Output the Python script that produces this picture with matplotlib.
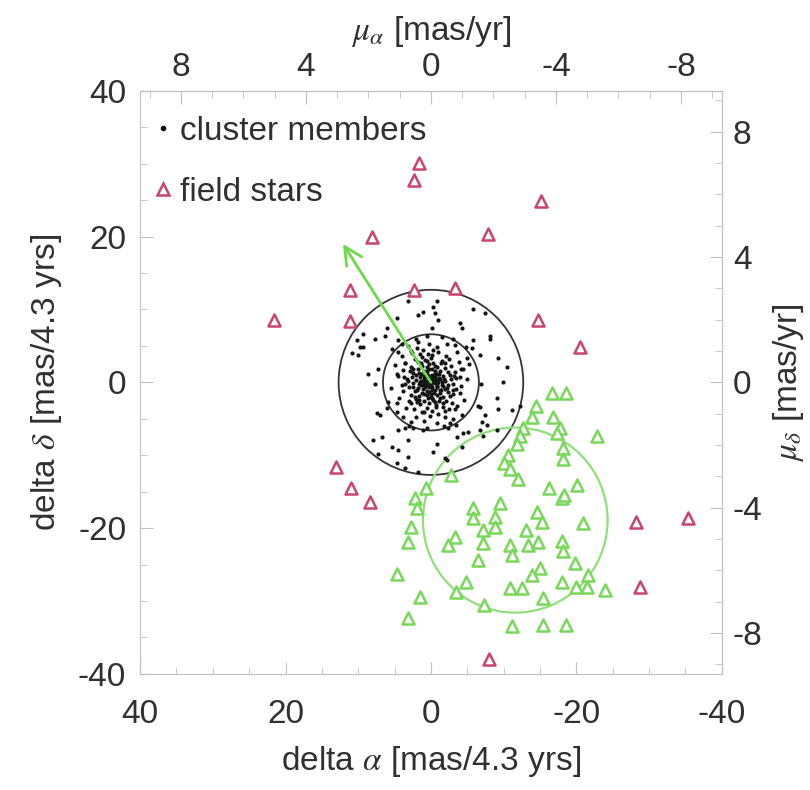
import matplotlib
matplotlib.use("Agg")
import matplotlib.pyplot as plt
from matplotlib.patches import Circle
from matplotlib.lines import Line2D
from matplotlib.ticker import MultipleLocator

plt.rcParams['font.family'] = ['Liberation Sans', 'DejaVu Sans']
plt.rcParams['mathtext.fontset'] = 'stix'
plt.rcParams['axes.unicode_minus'] = False

# ---------------- data ----------------
# cluster members: halo
cluster_halo_x = [3.2, 1.1, 1.8, 4.7, 6.1, 9.4, 6.3, 7.7, 10.2, 9.8, 10.9, 4.0, 1.8, 1.1, 1.9, 4.5, 2.6, 3.6,
                  7.3, 4.7, -0.8, -0.3, -0.6, -5.8, -7.4, -4.0, -4.3, -0.1, -8.1, -8.1, -5.8, -5.6, -3.3, -0.8,
                  -6.7, -9.2, -10.5, -5.0, -4.4, -4.0, -9.9, 5.9, 4.7, 7.4, 7.0, 3.9, 4.5, 3.6, 2.5, 1.1, 6.7,
                  8.0, 3.2, -0.3, 4.7, 3.6, 1.8, -9.1, -9.2, -6.5, -3.3, -11.1, -12.2, -7.4, -7.0, -7.7, -5.1,
                  -4.4, -6.7, -7.2, -2.3, -2.6, -3.6, -9.1, -1.9, -2.2, -4.3, -0.8, 10.0, 9.4, 7.7, 6.1, 4.5,
                  -1.0, -6.8, -6.9, 7.3, 5.4, 3.2, 8.6]
cluster_halo_y = [11.2, 9.6, 9.2, 8.8, 7.5, 6.7, 6.4, 6.0, 5.8, 4.8, 4.0, 5.3, 5.5, 4.4, 4.7, 4.1, 4.0, 2.7,
                  1.9, 1.2, 11.2, 10.3, 9.5, 10.1, 9.5, 8.1, 7.5, 7.5, 6.4, 6.0, 5.8, 4.7, 5.1, 4.8, 3.7, 3.4,
                  2.1, 3.4, 1.9, 0.7, 0.0, -2.7, -2.9, -4.2, -4.5, -4.8, -6.6, -6.3, -6.2, -6.6, -7.5, -7.9,
                  -7.9, -9.6, -11.0, -11.8, -12.3, -2.2, -3.6, -3.2, -3.6, -3.8, -3.2, -4.5, -5.5, -5.9, -6.8,
                  -7.0, -6.6, -7.3, -6.3, -5.6, -7.5, -6.6, -10.4, -10.7, -8.9, -8.4, 3.8, 4.8, -0.2, -3.5,
                  -9.3, 8.6, -3.4, -0.2, -9.8, -8.9, -10.3, 1.2]
# cluster members: dense core (estimated)
cluster_core_x = [-1.5, 2.0, 4.5, -3.0, 0.5, -2.2, 3.2, 0.2, -4.8, 5.3, -1.0, 1.5, -3.6, 4.0, -0.2, 2.8,
                  -2.5, 0.8, -1.5, 2.2, 3.5, -3.8, 0.0, -5.2, 5.0, 1.3, -0.6, 0.5, -1.9, 1.8, 2.8, -2.8, -0.2,
                  1.0, -1.2, 3.8, -4.1, 0.3, -3.3, 2.4, -0.8, 0.6, -1.7, 1.5, 2.6, -2.6, 0.1, -0.4, 1.0, -1.3,
                  2.0, -2.0, 3.3, -3.5, 0.4, -0.1, 4.5, -5.0, 1.7, -0.6, 0.7, -1.5, 1.3, 2.4, -2.4, 0.0, -0.9,
                  0.3, 1.8, -1.9, 3.0, -3.1, -4.2, 4.0, 5.5, -0.3, 0.9, -0.5, 0.6, -1.2, 1.2, 2.2, -2.3, 0.0,
                  -0.8, 1.7, -1.6, 2.8, -3.0, 3.9, -4.0, 0.4, -0.3, 1.0, -1.1, 2.0, -2.1, 0.2, 3.0, -2.9, -0.7,
                  1.5, -4.5, 4.4, -1.6, 0.6, 2.3, -2.5, -0.2, 1.2, 3.4, -3.6, -1.0, 0.1, 2.0, -2.0, -3.0, 1.0,
                  -0.8, 2.8, -4.3, 4.6, -1.8, 0.5, -3.5, 3.0, 0.2, -0.5, 0.8, -1.0, 1.1, -0.2, 0.5, -0.6, 1.4,
                  -1.4, 0.9, -0.9, 1.6, -1.8, 0.0, 2.1, -2.2, 0.3, -0.3, 1.2, -1.3, 2.5, -2.7, 0.6, -0.5, 1.9,
                  -2.0, 2.9, -3.0, 3.5, 0.1, -0.4, 0.7, -0.7, 0.4, -0.1, 1.1, -1.1, 0.2, -0.2, 0.8, -0.8,
                  1.5, -1.5, 0.5, -0.5, 1.3, -1.2, 0.0, 0.9, -0.9,
                  -2.6, 2.5, -1.1, 1.4, -0.4, 0.6, -1.7, 1.9, -2.3, 2.2, -0.9, 0.3, 1.6, -1.4, 0.8, -0.2,
                  3.1, -3.2, 1.2, -0.7, 2.7, -2.1, 0.4, -1.6, 1.8, -0.3, 3.7, -3.4, 0.9, -1.9]
cluster_core_y = [6.2, 6.0, 5.8, 6.0, 6.4, 5.2, 5.0, 5.3, 4.9, 4.6, 4.1, 3.9, 4.2, 3.6, 3.7, 4.3,
                  3.2, 3.0, 2.9, 3.2, 2.6, 2.8, 3.3, 2.5, 2.4, 2.6, 2.3, 2.1, 2.0, 1.9, 2.1, 2.2, 1.8,
                  1.6, 1.5, 1.7, 1.9, 2.5, 1.4, 1.3, 1.1, 1.2, 0.9, 0.8, 0.7, 1.0, 0.9, 0.6, 0.4, 0.4,
                  0.3, 0.2, 0.5, 0.6, 0.2, 0.3, 0.9, 0.4, 1.3, -0.1, -0.2, -0.3, -0.4, -0.1, -0.4, -0.3, -0.6,
                  -0.7, -0.8, -0.9, -0.6, -0.2, -0.5, -0.3, -0.8, 0.0, 0.1, -1.1, -1.2, -1.4, -1.5, -1.2, -1.3, -1.6,
                  -1.8, -1.9, -2.0, -1.7, -1.6, -1.2, -1.5, -2.1, -2.4, -2.5, -2.6, -2.3, -2.5, -2.9, -2.6, -2.9, -3.1,
                  -3.0, -2.4, -2.2, -3.4, -3.5, -3.6, -3.7, -3.9, -4.0, -3.5, -3.3, -4.3, -4.6, -4.7, -4.8, -5.0, -5.3,
                  -5.6, -5.4, -4.5, -4.0, -6.0, -6.2, -5.8, -6.0, 0.5, 0.8, 0.7, 0.0, -0.9, -1.0, 1.5, 1.5, 0.2,
                  -1.1, -1.6, 2.1, -0.2, 0.5, -2.0, 1.0, -0.8, -1.3, 2.7, 2.2, -2.2, -0.7, 0.5, 2.9, -2.7, -2.7,
                  2.7, 1.5, -1.0, -0.2, 0.1, 0.4, -0.4, 0.3, -0.1, 1.0, -0.3, 0.6, 0.7, -0.6, 0.2, -0.5,
                  0.0, 0.1, -0.2, 1.2, 1.1, -1.0, 0.6, 0.9, -0.2,
                  -1.9, 1.9, 1.2, 2.4, -1.5, -1.8, -0.5, -1.1, 1.4, -2.0, 0.3, 1.9, -2.4, 2.6, -0.6, -2.2,
                  0.2, 0.9, 3.5, -3.4, -2.9, 3.6, 3.9, -2.8, 2.8, 4.4, 0.8, -0.9, -4.1, -3.9]

# field stars outside the cluster (red)
field_x = [1.65, 2.3, -15.1, 8.1, -7.8, 11.1, 2.3, -3.3, 21.6, 11.1, -14.7, -20.5, 13.1, 11.0, 8.4,
           -28.2, -35.4, -28.7, -8.0]
field_y = [30.1, 27.7, 24.9, 20.0, 20.4, 12.7, 12.7, 13.0, 8.5, 8.4, 8.5, 4.8, -11.6, -14.5, -16.4,
           -19.2, -18.6, -28.1, -37.9]

# field stars of the co-moving group (green)
group_x = [-16.6, -18.6, -14.4, -13.9, -16.8, -17.7, -12.7, -17.3, -12.2, -22.8, -11.8, -18.2, -10.6,
           -18.2, -10.0, -10.9, -2.8, -12.0, 0.7, -16.2, -20.1, 2.2, -18.0, 1.9, -9.5, -5.8, -5.8, -14.6,
           -8.8, -8.8, -15.3, -20.9, 2.8, -7.2, -13.1, -3.3, 3.2, -2.3, -7.2, -10.9, -11.1, -13.3, -14.7,
           -18.0, -18.2, -6.5, -19.8, -15.0, -13.9, 4.7, -21.6, -4.8, -18.0, -19.9, -21.5, -23.9, -3.4,
           -10.9, -12.5, 1.5, -15.4, -7.3, 3.2, -11.1, -15.4, -18.6, -18.3]
group_y = [-1.4, -1.4, -3.2, -4.8, -4.7, -6.2, -6.2, -7.0, -7.3, -7.3, -8.4, -9.0, -9.9, -10.5, -11.0,
           -11.9, -12.7, -13.3, -14.5, -14.5, -14.1, -15.8, -15.8, -17.3, -16.6, -17.3, -18.6, -17.8, -18.5,
           -19.9, -19.2, -19.3, -19.9, -20.3, -20.3, -21.2, -21.9, -22.3, -22.1, -22.3, -23.7, -22.3, -21.9,
           -21.8, -23.2, -24.4, -24.8, -25.5, -26.4, -26.3, -26.4, -27.4, -27.4, -28.1, -28.1, -28.5, -28.8,
           -28.2, -28.2, -29.5, -29.6, -30.5, -32.3, -33.4, -33.3, -33.3, -15.4]

cluster_radii = [6.6, 12.7]
group_center = (-11.6, -18.9)
group_radius = 12.7
arrow_tip = (12.1, 19.0)

xticks = [40, 20, 0, -20, -40]
yticks = [-40, -20, 0, 20, 40]
pm_ticks = [8, 4, 0, -4, -8]
baseline = 4.3

# ---------------- style ----------------
RED = '#c8456c'
GREEN = '#79d75a'
GREEN_LINE = '#8fe07a'
TXT = '#303030'
SPINE = '#c0c0c0'
FS = 24

fig = plt.figure(figsize=(8.1, 7.9), dpi=100)
ax = fig.add_axes([0.173, 0.147, 0.718, 0.738])

ax.scatter(cluster_halo_x + cluster_core_x, cluster_halo_y + cluster_core_y,
           s=9, c='#151515', lw=0, zorder=3)
ax.scatter(field_x, field_y, marker='^', s=75, facecolors='white', edgecolors=RED,
           linewidths=1.8, zorder=4)
ax.scatter(group_x, group_y, marker='^', s=75, facecolors='white', edgecolors=GREEN,
           linewidths=1.8, zorder=4)

for r in cluster_radii:
    ax.add_patch(Circle((0, 0), r, fill=False, ec='#333333', lw=1.3, zorder=2))
ax.add_patch(Circle(group_center, group_radius, fill=False, ec=GREEN_LINE, lw=1.6, zorder=2))

ax.annotate('', xy=arrow_tip, xytext=(0, 0),
            arrowprops=dict(arrowstyle='->', color='#6fd94e', lw=2.0, mutation_scale=32,
                            shrinkA=0, shrinkB=0), zorder=5)

ax.set_xlim(40, -40)
ax.set_ylim(-40, 40)
ax.set_xticks(xticks)
ax.set_yticks(yticks)
ax.xaxis.set_minor_locator(MultipleLocator(5))
ax.yaxis.set_minor_locator(MultipleLocator(5))
ax.tick_params(which='both', direction='in', color=SPINE, labelcolor=TXT, labelsize=FS,
               top=False, right=False)
ax.tick_params(which='major', length=9)
ax.tick_params(which='minor', length=5)
ax.tick_params(axis='x', which='major', pad=18)
ax.tick_params(axis='y', which='major', pad=10)
for s in ax.spines.values():
    s.set_color(SPINE)

ax.set_xlabel(r'delta $\alpha$ [mas/4.3 yrs]', fontsize=FS, color=TXT, labelpad=10)
ax.set_ylabel(r'delta $\delta$ [mas/4.3 yrs]', fontsize=FS, color=TXT, labelpad=10)

top = ax.secondary_xaxis('top', functions=(lambda v: v / baseline, lambda v: v * baseline))
top.set_xticks(pm_ticks)
top.xaxis.set_minor_locator(MultipleLocator(1))
top.tick_params(which='both', direction='in', color=SPINE, labelcolor=TXT, labelsize=FS)
top.tick_params(which='major', length=9, pad=6)
top.tick_params(which='minor', length=5)
top.spines['top'].set_color(SPINE)
top.set_xlabel(r'$\mu_\alpha$ [mas/yr]', fontsize=FS, color=TXT, labelpad=8)

right = ax.secondary_yaxis('right', functions=(lambda v: v / baseline, lambda v: v * baseline))
right.set_yticks(pm_ticks)
right.yaxis.set_minor_locator(MultipleLocator(1))
right.tick_params(which='both', direction='in', color=SPINE, labelcolor=TXT, labelsize=FS)
right.tick_params(which='major', length=9, pad=8)
right.tick_params(which='minor', length=5)
right.spines['right'].set_color(SPINE)
right.set_ylabel(r'$\mu_\delta$ [mas/yr]', fontsize=FS, color=TXT, labelpad=6)

handles = [Line2D([], [], ls='none', marker='o', ms=3, color='#111111'),
           Line2D([], [], ls='none', marker='^', ms=8, mfc='white', mec=RED, mew=1.8)]
leg = ax.legend(handles, ['cluster members', 'field stars'], loc='upper left', frameon=False,
                fontsize=FS, handlelength=0.5, handletextpad=0.25, labelspacing=0.9,
                borderaxespad=0.2, borderpad=0.75, bbox_to_anchor=(-0.029, 1.011))
for t in leg.get_texts():
    t.set_color(TXT)

fig.savefig('out.png', dpi=100)
